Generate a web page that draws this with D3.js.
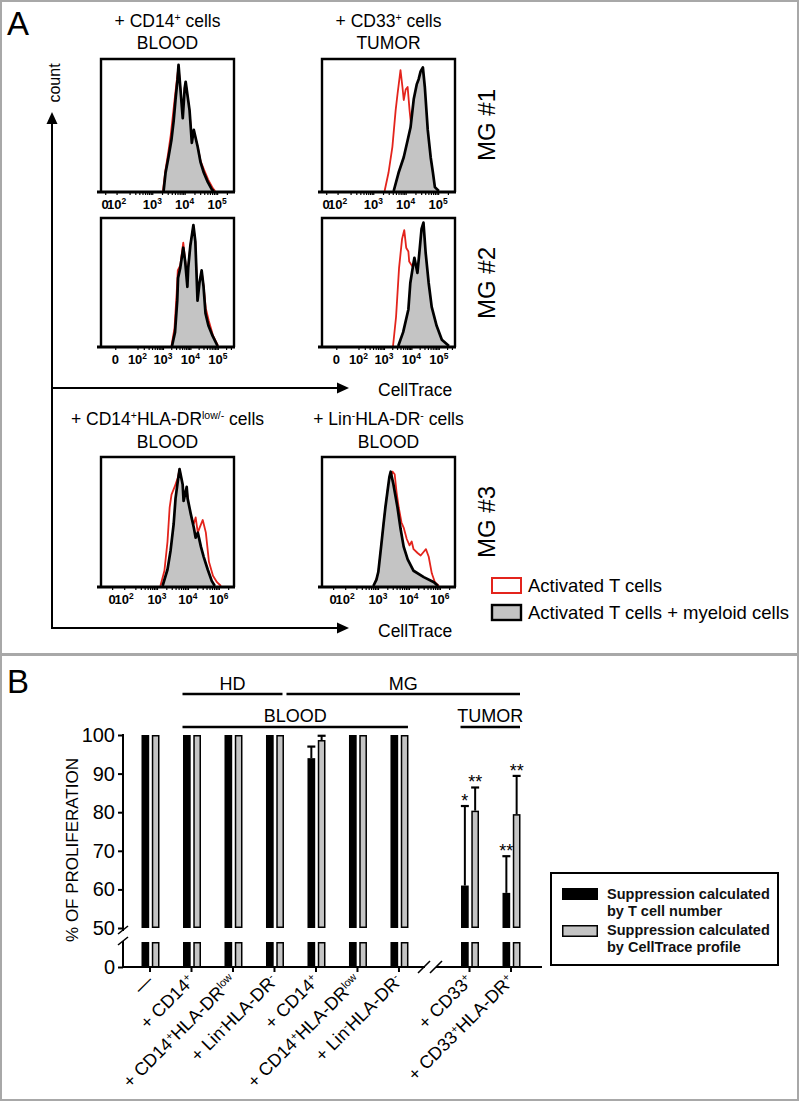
<!DOCTYPE html>
<html><head><meta charset="utf-8">
<script src="https://cdn.jsdelivr.net/npm/d3@7"></script>
<style>
body{margin:0;background:#fff;}
svg{display:block;font-family:Arial,"Liberation Sans",Helvetica,sans-serif;}
</style></head><body>
<svg id="c" width="800" height="1105"></svg>
<script>
// ---------------- DATA : panel A (histograms) ----------------
const titleRow1 = [["+ CD14^{+} cells","BLOOD"],["+ CD33^{+} cells","TUMOR"]];
const titleRow3 = [["+ CD14^{+}HLA-DR^{low/-} cells","BLOOD"],["+ Lin^{-}HLA-DR^{-} cells","BLOOD"]];
const donorLabels = ["MG #1","MG #2","MG #3"];
const legendA = ["Activated T cells","Activated T cells + myeloid cells"];
const countLabel = "count", traceLabel = "CellTrace";

// biexponential channel axes (tick label, channel value)
const ticksRow1 = [["0",1.55],["10^{2}",1.9],["10^{3}",3],["10^{4}",4],["10^{5}",5]];
const ticksRow2 = [["0",1.26],["10^{2}",2.07],["10^{3}",3],["10^{4}",4],["10^{5}",5]];
const ticksRow3 = [["0",1.55],["10^{2}",1.94],["10^{3}",3],["10^{4}",4],["10^{6}",5]];
const domainRow1 = [1.42,5.52], domainRow2 = [0.74,5.59], domainRow3 = [1.19,5.49];

// [channel, normalised count]
const h1Black = [[3.35,0],[3.41,0.14],[3.50,0.26],[3.59,0.39],[3.66,0.54],[3.72,0.71],[3.78,0.86],[3.81,0.97],[3.94,0.56],[4.00,0.79],[4.03,0.84],[4.15,0.62],[4.22,0.37],[4.28,0.47],[4.40,0.34],[4.49,0.22],[4.59,0.14],[4.71,0.07],[4.84,0.01],[4.90,0]];
const h1Red   = [[3.33,0],[3.40,0.15],[3.49,0.29],[3.57,0.43],[3.64,0.59],[3.71,0.75],[3.77,0.88],[3.81,0.96],[3.94,0.57],[4.00,0.79],[4.03,0.83],[4.15,0.61],[4.22,0.38],[4.28,0.46],[4.40,0.34],[4.49,0.23],[4.60,0.16],[4.72,0.09],[4.87,0.02],[4.94,0]];
const h2Black = [[3.33,0],[3.44,0.11],[3.52,0.36],[3.55,0.54],[3.63,0.62],[3.74,0.78],[3.81,0.67],[3.89,0.47],[3.92,0.62],[4.00,0.80],[4.11,0.96],[4.18,0.83],[4.26,0.36],[4.33,0.50],[4.41,0.60],[4.48,0.47],[4.55,0.26],[4.66,0.16],[4.81,0.08],[4.99,0]];
const h2Red   = [[3.31,0],[3.42,0.14],[3.50,0.42],[3.54,0.60],[3.63,0.64],[3.74,0.82],[3.81,0.68],[3.89,0.48],[3.92,0.62],[4.00,0.80],[4.11,0.95],[4.18,0.82],[4.26,0.37],[4.33,0.50],[4.41,0.59],[4.48,0.48],[4.56,0.30],[4.67,0.20],[4.83,0.08],[5.01,0]];
const h3Black = [[3.63,0],[3.78,0.14],[3.94,0.26],[4.06,0.39],[4.15,0.49],[4.25,0.71],[4.34,0.82],[4.40,0.86],[4.46,0.92],[4.53,0.95],[4.59,0.80],[4.68,0.47],[4.77,0.26],[4.84,0.14],[4.90,0.03],[5.02,0]];
const h3Red   = [[3.35,0],[3.47,0.14],[3.59,0.34],[3.69,0.62],[3.75,0.75],[3.84,0.93],[3.90,0.80],[3.94,0.70],[4.00,0.78],[4.06,0.80],[4.12,0.62],[4.19,0.45],[4.28,0.28],[4.40,0.14],[4.59,0.05],[4.77,0]];
const h4Black = [[3.52,0],[3.70,0.11],[3.89,0.29],[3.96,0.50],[4.07,0.65],[4.11,0.70],[4.22,0.58],[4.29,0.74],[4.37,0.93],[4.44,0.98],[4.52,0.74],[4.63,0.50],[4.74,0.31],[4.92,0.16],[5.11,0.05],[5.37,0]];
const h4Red   = [[3.33,0],[3.44,0.23],[3.55,0.62],[3.66,0.85],[3.74,0.92],[3.81,0.78],[3.89,0.75],[3.92,0.67],[4.07,0.62],[4.22,0.62],[4.33,0.45],[4.44,0.25],[4.59,0.10],[4.81,0]];
const h5Black = [[3.18,0],[3.34,0.13],[3.44,0.28],[3.54,0.49],[3.60,0.69],[3.67,0.82],[3.73,0.92],[3.83,0.80],[3.86,0.67],[3.96,0.78],[3.99,0.69],[4.09,0.57],[4.19,0.46],[4.25,0.38],[4.32,0.42],[4.42,0.31],[4.51,0.23],[4.64,0.13],[4.77,0.04],[4.87,0]];
const h5Red   = [[3.11,0],[3.24,0.12],[3.34,0.35],[3.41,0.62],[3.47,0.72],[3.57,0.78],[3.67,0.85],[3.73,0.92],[3.83,0.78],[3.89,0.68],[3.96,0.76],[4.02,0.64],[4.09,0.55],[4.19,0.49],[4.25,0.54],[4.32,0.42],[4.38,0.46],[4.48,0.52],[4.58,0.42],[4.68,0.19],[4.81,0.08],[4.94,0.03],[5.07,0]];
const h6Black = [[2.85,0],[2.95,0.05],[3.01,0.11],[3.11,0.33],[3.18,0.49],[3.24,0.62],[3.31,0.75],[3.37,0.86],[3.41,0.90],[3.50,0.80],[3.63,0.62],[3.73,0.45],[3.83,0.31],[3.96,0.21],[4.15,0.12],[4.48,0.07],[4.81,0.03],[4.94,0]];
const h6Red   = [[2.88,0],[3.01,0.10],[3.11,0.32],[3.21,0.55],[3.31,0.75],[3.41,0.86],[3.47,0.90],[3.54,0.88],[3.60,0.74],[3.67,0.62],[3.76,0.50],[3.83,0.46],[3.93,0.37],[4.02,0.32],[4.09,0.35],[4.15,0.29],[4.28,0.26],[4.38,0.24],[4.48,0.27],[4.55,0.29],[4.64,0.23],[4.74,0.10],[4.84,0.03],[4.97,0]];

// ---------------- DATA : panel B (bars) ----------------
const categories = ["—","+ CD14^{+}","+ CD14^{+}HLA-DR^{low}","+ Lin^{-}HLA-DR^{-}","+ CD14^{+}","+ CD14^{+}HLA-DR^{low}","+ Lin^{-}HLA-DR^{-}","+ CD33^{+}","+ CD33^{+}HLA-DR^{+}"];
const byTCellNumber  = [100,100,100,100,94.0,100,100,61.0,59.1];
const byTCellErr     = [0,0,0,0,3.0,0,0,20.6,9.5];
const byCellTrace    = [100,100,100,100,98.7,100,100,80.4,79.5];
const byCellTraceErr = [0,0,0,0,1.1,0,0,6.0,9.9];
const sigTCell     = ["","","","","","","","*","**"];
const sigCellTrace = ["","","","","","","","**","**"];
const yTicksUpper = [50,60,70,80,90,100];
const yTicksLower = [0];
const seriesNames = ["Suppression calculated|by T cell number","Suppression calculated|by CellTrace profile"];
const yTitle = "% OF PROLIFERATION";
const groupRow1 = [["HD",1,3],["MG",4,8]];
const groupRow2 = [["BLOOD",1,6],["TUMOR",7,8]];

// ---------------- helpers ----------------
const svg = d3.select("#c");
function rich(sel, str, supScale){
  str.split(/(\^\{[^}]*\})/).forEach(p=>{
    if(!p) return;
    if(p.startsWith("^{")) sel.append("tspan").attr("baseline-shift","super").attr("font-size",(supScale||0.6)+"em").text(p.slice(2,-1));
    else sel.append("tspan").text(p);
  });
}
const RED="#e3241c", GREY="#c4c4c4";

// panel borders
svg.append("rect").attr("x",1).attr("y",1).attr("width",797).attr("height",653).attr("fill","none").attr("stroke","#a8a8a8").attr("stroke-width",2);
svg.append("rect").attr("x",1).attr("y",655).attr("width",797).attr("height",445).attr("fill","none").attr("stroke","#a8a8a8").attr("stroke-width",2);
svg.append("text").attr("x",7).attr("y",35).attr("font-size",33).text("A");
svg.append("text").attr("x",7).attr("y",693).attr("font-size",33).text("B");

// ---------------- PANEL A ----------------
const rowsA = [{top:59,bottom:192,ticks:ticksRow1,dom:domainRow1},
               {top:218,bottom:347,ticks:ticksRow2,dom:domainRow2},
               {top:457,bottom:587,ticks:ticksRow3,dom:domainRow3}];
const colLeft = [101,322], boxW = 133;
const hists = [[h1Red,h1Black],[h3Red,h3Black],[h2Red,h2Black],[h4Red,h4Black],[h5Red,h5Black],[h6Red,h6Black]];

rowsA.forEach((r,ri)=>{
  colLeft.forEach((cl,ci)=>{
    const [red,black] = hists[ri*2+ci];
    const xs = d3.scaleLinear().domain(r.dom).range([cl, cl+boxW]);
    const ys = d3.scaleLinear().domain([0,1]).range([r.bottom-1, r.top+2]);
    const g = svg.append("g");
    g.append("path").datum(red).attr("fill","none").attr("stroke",RED).attr("stroke-width",1.8).attr("stroke-linejoin","round")
      .attr("d", d3.line().x(d=>xs(d[0])).y(d=>ys(d[1])));
    g.append("path").datum(black).attr("fill",GREY)
      .attr("d", d3.area().x(d=>xs(d[0])).y0(r.bottom).y1(d=>ys(d[1])));
    g.append("path").datum(black).attr("fill","none").attr("stroke","#000").attr("stroke-width",2.7).attr("stroke-linejoin","round")
      .attr("d", d3.line().x(d=>xs(d[0])).y(d=>ys(d[1])));
    // box
    g.append("path").attr("fill","none").attr("stroke","#000").attr("stroke-width",2.4)
      .attr("d",`M${cl},${r.bottom}V${r.top}H${cl+boxW}V${r.bottom}`);
    // minor ticks axis
    const minor=[]; for(let k=2;k<=5;k++) for(let m=2;m<=9;m++){const v=k+Math.log10(m); if(v<r.dom[1]-0.05 && v>r.ticks[1][1]) minor.push(v);}
    const ax = d3.axisBottom(xs).tickValues(minor.concat(r.ticks.map(t=>t[1]))).tickSize(3).tickFormat("");
    const axg = g.append("g").attr("transform",`translate(0,${r.bottom})`).call(ax);
    axg.select(".domain").attr("stroke-width",2.8).attr("d",`M${cl-4},0H${cl+boxW+1}`);
    axg.selectAll(".tick line").attr("stroke-width",1.2);
    r.ticks.forEach(t=>{
      const tx = g.append("text").attr("x",xs(t[1])).attr("y",r.bottom+17).attr("text-anchor","middle")
        .attr("font-size",13).attr("font-weight","bold");
      rich(tx,t[0],0.65);
    });
  });
});
// column titles
[[titleRow1,27,49],[titleRow3,425,448]].forEach(([tt,y1,y2])=>{
  tt.forEach((lines,ci)=>{
    const cx = colLeft[ci]+boxW/2;
    const t1 = svg.append("text").attr("x",cx).attr("y",y1).attr("text-anchor","middle").attr("font-size",17.5);
    rich(t1,lines[0],0.6);
    svg.append("text").attr("x",cx).attr("y",y2).attr("text-anchor","middle").attr("font-size",17.5).text(lines[1]);
  });
});
// donor labels
[125,283,522].forEach((cy,i)=>{
  svg.append("text").attr("transform",`translate(495,${cy}) rotate(-90)`).attr("text-anchor","middle")
    .attr("font-size",24).text(donorLabels[i]);
});
// arrows
function arrow(x1,y1,x2,y2){
  const ang=Math.atan2(y2-y1,x2-x1), L=12, W=5.5;
  const bx=x2-L*Math.cos(ang), by=y2-L*Math.sin(ang);
  svg.append("line").attr("x1",x1).attr("y1",y1).attr("x2",bx).attr("y2",by).attr("stroke","#000").attr("stroke-width",2);
  svg.append("path").attr("fill","#000").attr("d",
    `M${x2},${y2}L${bx+W*Math.sin(ang)},${by-W*Math.cos(ang)}L${bx-W*Math.sin(ang)},${by+W*Math.cos(ang)}Z`);
}
arrow(52,629,52,112);
arrow(51,388,349,388);
arrow(51,628,349,628);
svg.append("text").attr("transform","translate(60,83) rotate(-90)").attr("text-anchor","middle").attr("font-size",16).text(countLabel);
svg.append("text").attr("x",378).attr("y",396).attr("font-size",17.5).text(traceLabel);
svg.append("text").attr("x",378).attr("y",637).attr("font-size",17.5).text(traceLabel);
// legend A
svg.append("rect").attr("x",492).attr("y",578).attr("width",29).attr("height",15).attr("fill","#fff").attr("stroke",RED).attr("stroke-width",2);
svg.append("rect").attr("x",492).attr("y",605).attr("width",29).attr("height",15).attr("fill",GREY).attr("stroke","#000").attr("stroke-width",2.4);
svg.append("text").attr("x",528).attr("y",592).attr("font-size",18.5).text(legendA[0]);
svg.append("text").attr("x",528).attr("y",619).attr("font-size",18.5).text(legendA[1]);

// ---------------- PANEL B ----------------
const gap = 0.7;
const xB = d3.scaleLinear().domain([0, categories.length-1+gap]).range([150, 511]);
const gx = i => xB(i + (i>=7 ? gap : 0));
const inner = d3.scaleBand().domain(["tcell","trace"]).range([-8.5,9.5]).paddingInner(0.25);
const yU = d3.scaleLinear().domain([50,100]).range([928,735]);
const yL = d3.scaleLinear().domain([0,50]).range([967,942]);
const AX = 123;

const series = [
  {key:"tcell", vals:byTCellNumber, err:byTCellErr, sig:sigTCell, fill:"#000"},
  {key:"trace", vals:byCellTrace, err:byCellTraceErr, sig:sigCellTrace, fill:GREY}
];
const gb = svg.append("g");
series.forEach(s=>{
  categories.forEach((c,i)=>{
    const x0 = gx(i)+inner(s.key), w = inner.bandwidth(), v = s.vals[i];
    const st = s.key==="trace";
    const o = st?0.75:0;
    gb.append("rect").attr("x",x0+o).attr("y",yU(v)+o).attr("width",w-2*o).attr("height",yU(50)-yU(v)-2*o)
      .attr("fill",s.fill).attr("stroke",st?"#000":"none").attr("stroke-width",1.5);
    gb.append("rect").attr("x",x0+o).attr("y",yL(50)+o).attr("width",w-2*o).attr("height",yL(0)-yL(50)-o)
      .attr("fill",s.fill).attr("stroke",st?"#000":"none").attr("stroke-width",1.5);
    if(s.err[i]>0){
      const cx = x0+w/2, yt = yU(v+s.err[i]);
      gb.append("line").attr("x1",cx).attr("x2",cx).attr("y1",yU(v)).attr("y2",yt).attr("stroke","#000").attr("stroke-width",2);
      gb.append("line").attr("x1",cx-4).attr("x2",cx+4).attr("y1",yt).attr("y2",yt).attr("stroke","#000").attr("stroke-width",2.2);
      if(s.sig[i]) gb.append("text").attr("x",cx).attr("y",yt+1).attr("text-anchor","middle").attr("font-size",18).text(s.sig[i]);
    }
  });
});
// y axis
const yAxU = svg.append("g").attr("transform",`translate(${AX},0)`).call(d3.axisLeft(yU).tickValues(yTicksUpper).tickSize(5).tickPadding(3));
const yAxL = svg.append("g").attr("transform",`translate(${AX},0)`).call(d3.axisLeft(yL).tickValues(yTicksLower).tickSize(5).tickPadding(3));
[yAxU,yAxL].forEach(a=>{a.select(".domain").remove(); a.selectAll("text").attr("font-size",20).attr("font-family","Arial,'Liberation Sans',sans-serif").attr("fill","#000"); a.selectAll(".tick line").attr("stroke-width",2);});
svg.append("line").attr("x1",AX).attr("x2",AX).attr("y1",yU(100)-1).attr("y2",yU(50)+3).attr("stroke","#000").attr("stroke-width",2);
svg.append("line").attr("x1",AX).attr("x2",AX).attr("y1",yL(50)-1).attr("y2",yL(0)+1).attr("stroke","#000").attr("stroke-width",2);
[yU(50)+2, yL(50)-1].forEach(yy=>svg.append("line").attr("x1",AX-5).attr("y1",yy+4).attr("x2",AX+5).attr("y2",yy-4).attr("stroke","#000").attr("stroke-width",1.6));
// x axis
const xEnd = gx(8)+31;
svg.append("line").attr("x1",AX).attr("x2",425).attr("y1",yL(0)).attr("y2",yL(0)).attr("stroke","#000").attr("stroke-width",2);
svg.append("line").attr("x1",436).attr("x2",xEnd).attr("y1",yL(0)).attr("y2",yL(0)).attr("stroke","#000").attr("stroke-width",2);
[424,436].forEach(xx=>svg.append("line").attr("x1",xx-6).attr("y1",yL(0)+6).attr("x2",xx+6).attr("y2",yL(0)-6).attr("stroke","#000").attr("stroke-width",1.6));
categories.forEach((c,i)=>{
  svg.append("line").attr("x1",gx(i)).attr("x2",gx(i)).attr("y1",yL(0)).attr("y2",yL(0)+5).attr("stroke","#000").attr("stroke-width",2);
  const t = svg.append("text").attr("transform",`translate(${gx(i)+4},982) rotate(-45)`).attr("text-anchor","end").attr("font-size",18);
  rich(t,c,0.6);
});
svg.append("text").attr("transform","translate(78,850) rotate(-90)").attr("text-anchor","middle").attr("font-size",17).text(yTitle);
// group brackets
function bracket(list,yLine,yText){
  list.forEach(([name,a,b],k)=>{
    let x1 = gx(a)-9, x2 = gx(b)+9;
    if(name==="HD") x2 = gx(b)+8;
    if(name==="MG") x1 = gx(a-1)+12;
    svg.append("line").attr("x1",x1).attr("x2",x2).attr("y1",yLine).attr("y2",yLine).attr("stroke","#000").attr("stroke-width",2.5);
    svg.append("text").attr("x",(x1+x2)/2).attr("y",yText).attr("text-anchor","middle").attr("font-size",18).text(name);
  });
}
bracket(groupRow1,694,690);
bracket(groupRow2,727,722);
// legend B
svg.append("rect").attr("x",551).attr("y",873).attr("width",227).attr("height",92).attr("fill","#fff").attr("stroke","#000").attr("stroke-width",2);
svg.append("rect").attr("x",562).attr("y",888).attr("width",36).attr("height",12).attr("fill","#000");
svg.append("rect").attr("x",562.75).attr("y",925.75).attr("width",34.5).attr("height",10.5).attr("fill",GREY).attr("stroke","#000").attr("stroke-width",1.5);
seriesNames.forEach((n,k)=>{
  n.split("|").forEach((ln,j)=>{
    svg.append("text").attr("x",607).attr("y",899+k*36+j*17).attr("font-size",14.5).attr("font-weight","bold").attr("fill","#111").text(ln);
  });
});
</script>
</body></html>
